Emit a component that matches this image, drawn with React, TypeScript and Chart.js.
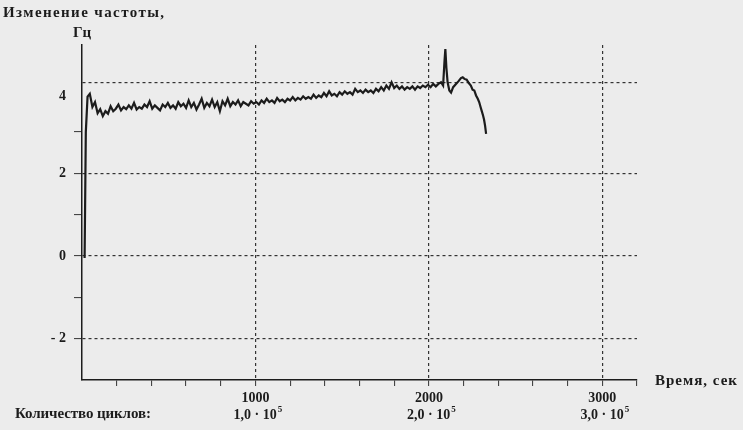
import React, { useEffect, useRef } from 'react';
import { Chart, registerables } from 'chart.js';

Chart.register(...registerables);

// Time, seconds
const timeSec = [
  15, 22, 32, 45, 60, 75, 90, 105, 120, 135, 150, 165, 180, 195, 210, 225, 240, 255, 270, 285,
  300, 315, 330, 345, 360, 375, 390, 405, 420, 435, 450, 465, 480, 495, 510, 525, 540, 555, 570, 585,
  600, 615, 630, 645, 660, 675, 690, 705, 720, 735, 750, 765, 780, 795, 810, 825, 840, 855, 870, 885,
  900, 915, 930, 945, 960, 975, 990, 1005, 1020, 1035, 1050, 1065, 1080, 1095, 1110, 1125, 1140, 1155, 1170, 1185,
  1200, 1215, 1230, 1245, 1260, 1275, 1290, 1305, 1320, 1335, 1350, 1365, 1380, 1395, 1410, 1425, 1440, 1455, 1470, 1485,
  1500, 1515, 1530, 1545, 1560, 1575, 1590, 1605, 1620, 1635, 1650, 1665, 1680, 1695, 1710, 1725, 1740, 1755, 1770, 1785,
  1800, 1815, 1830, 1845, 1860, 1875, 1890, 1905, 1920, 1935, 1950, 1965, 1980, 1995, 2010, 2025, 2040, 2055, 2070, 2082,
  2090, 2095, 2101, 2108, 2118, 2128, 2140, 2155, 2170, 2185, 2195, 2205, 2218, 2230, 2242, 2252, 2262, 2272, 2282, 2290,
  2298, 2305, 2312, 2318, 2324, 2330,
];

// Frequency change, Hz
const freqShiftHz = [
  -0.05, 3.0, 3.85, 3.92, 3.6, 3.72, 3.45, 3.55, 3.38, 3.5, 3.44, 3.62, 3.5, 3.56, 3.66, 3.52, 3.6, 3.55, 3.64, 3.56,
  3.7, 3.54, 3.6, 3.56, 3.66, 3.6, 3.74, 3.56, 3.64, 3.58, 3.52, 3.66, 3.6, 3.7, 3.58, 3.64, 3.56, 3.72, 3.62, 3.68,
  3.58, 3.76, 3.6, 3.7, 3.54, 3.66, 3.8, 3.58, 3.7, 3.62, 3.78, 3.6, 3.72, 3.5, 3.74, 3.64, 3.8, 3.62, 3.72, 3.66,
  3.76, 3.62, 3.72, 3.68, 3.64, 3.74, 3.68, 3.72, 3.66, 3.76, 3.7, 3.8, 3.72, 3.76, 3.7, 3.82, 3.74, 3.78, 3.72, 3.8,
  3.76, 3.84, 3.76, 3.82, 3.78, 3.86, 3.8, 3.84, 3.8, 3.9, 3.82, 3.88, 3.84, 3.94, 3.86, 3.98, 3.88, 3.92, 3.86, 3.96,
  3.9, 3.98, 3.92, 3.96, 3.9, 4.04, 3.96, 4.0, 3.94, 4.02, 3.96, 4.0, 3.94, 4.04, 3.98, 4.08, 4.0, 4.12, 4.04, 4.2,
  4.06, 4.12, 4.04, 4.1, 4.02, 4.08, 4.04, 4.1, 4.02, 4.1, 4.06, 4.12, 4.08, 4.14, 4.08, 4.16, 4.1, 4.16, 4.2, 4.12,
  4.7, 5.0, 4.55, 4.2, 4.0, 3.95, 4.08, 4.15, 4.22, 4.3, 4.32, 4.28, 4.26, 4.18, 4.12, 4.02, 4.0, 3.88, 3.8, 3.72,
  3.6, 3.5, 3.4, 3.3, 3.15, 2.95,
];

const xMajorTicks = [1000, 2000, 3000];
const xMinorTicks = [200, 400, 600, 800, 1000, 1200, 1400, 1600, 1800, 2000, 2200, 2400, 2600, 2800, 3000, 3200];
const yGridValues = [-2, 0, 2, 4.2];
const yLabelValues = [-2, 0, 2, 3.85];
const yTickLabels = ['- 2', '0', '2', '4'];
const yMinorTicks = [-2, -1, 0, 1, 2, 3, 3.85, 4.2];
const cycleMantissas = ['1,0', '2,0', '3,0'];
const cycleExponent = '5';

const INK = '#1c1c1c';
const FONT = '"Liberation Serif", "Times New Roman", serif';

const cyclesPlugin = {
  id: 'cycles',
  afterDraw(chart: any) {
    const ctx = chart.ctx;
    const xs = chart.scales.x;
    ctx.save();
    ctx.fillStyle = INK;
    ctx.textBaseline = 'alphabetic';
    xMajorTicks.forEach((v, i) => {
      const cx = xs.getPixelForValue(v) + 2;
      const main = cycleMantissas[i] + ' \u00b7 10';
      ctx.font = 'bold 14px ' + FONT;
      const w1 = ctx.measureText(main).width;
      ctx.font = 'bold 9px ' + FONT;
      const w2 = ctx.measureText(cycleExponent).width;
      const left = cx - (w1 + w2) / 2;
      ctx.font = 'bold 14px ' + FONT;
      ctx.textAlign = 'left';
      ctx.fillText(main, left, 419);
      ctx.font = 'bold 9px ' + FONT;
      ctx.fillText(cycleExponent, left + w1 + 1, 412);
    });
    ctx.restore();
  },
};

export default function App() {
  const ref = useRef<HTMLCanvasElement>(null);

  useEffect(() => {
    if (!ref.current) return;
    const chart = new Chart(ref.current, {
      type: 'line',
      data: {
        datasets: [
          {
            data: timeSec.map((t, i) => ({ x: t, y: freqShiftHz[i] })),
            borderColor: INK,
            borderWidth: 2.2,
            pointRadius: 0,
            tension: 0,
            fill: false,
          },
        ],
      },
      options: {
        animation: false,
        responsive: false,
        maintainAspectRatio: false,
        layout: { padding: { top: 45, right: 106, left: 0, bottom: 0 } },
        plugins: { legend: { display: false }, tooltip: { enabled: false }, title: { display: false } },
        scales: {
          x: {
            type: 'linear',
            min: 0,
            max: 3200,
            afterBuildTicks: (s: any) => {
              s.ticks = xMinorTicks.map((value) => ({ value }));
            },
            afterFit: (s: any) => {
              s.height = 50;
            },
            ticks: {
              autoSkip: false,
              maxRotation: 0,
              color: INK,
              font: { family: FONT, size: 14, weight: 'bold' },
              padding: 4,
              callback: (v: any) => (xMajorTicks.includes(Number(v)) ? String(v) : ''),
            },
            grid: {
              drawOnChartArea: true,
              color: (c: any) => (xMajorTicks.includes(c.tick?.value) ? '#333' : 'rgba(0,0,0,0)'),
              lineWidth: 1.2,
              tickColor: '#333',
              tickLength: 6,
              tickWidth: 1,
            },
            border: { display: true, color: INK, width: 1.5, dash: [3, 3] },
          },
          y: {
            type: 'linear',
            min: -3,
            max: 5.1,
            afterBuildTicks: (s: any) => {
              s.ticks = yMinorTicks.map((value) => ({ value }));
            },
            afterFit: (s: any) => {
              s.width = 82;
            },
            ticks: {
              autoSkip: false,
              color: INK,
              font: { family: FONT, size: 14, weight: 'bold' },
              padding: 8,
              callback: (v: any) => {
                const idx = yLabelValues.indexOf(Number(v));
                return idx >= 0 ? yTickLabels[idx] : '';
              },
            },
            grid: {
              drawOnChartArea: true,
              color: (c: any) => (yGridValues.includes(c.tick?.value) ? '#333' : 'rgba(0,0,0,0)'),
              tickColor: (c: any) =>
                c.tick?.value === 4.2 || c.tick?.value === 3.85 ? 'rgba(0,0,0,0)' : '#333',
              lineWidth: 1.2,
              tickLength: 8,
              tickWidth: 1,
            },
            border: { display: true, color: INK, width: 1.5, dash: [3, 3] },
          },
        },
      },
      plugins: [cyclesPlugin],
    } as any);
    return () => chart.destroy();
  }, []);

  const textStyle: React.CSSProperties = {
    position: 'absolute',
    fontFamily: FONT,
    fontWeight: 'bold',
    fontSize: '15px',
    lineHeight: '15px',
    color: INK,
    whiteSpace: 'nowrap',
  };

  return (
    <div
      style={{
        position: 'fixed',
        left: 0,
        top: 0,
        width: 743,
        height: 430,
        background: '#ececec',
        overflow: 'hidden',
      }}
    >
      <canvas ref={ref} width={743} height={430} style={{ position: 'absolute', left: 0, top: 0 }} />
      <div style={{ ...textStyle, left: 3, top: 5, letterSpacing: '1.4px' }}>Изменение частоты,</div>
      <div style={{ ...textStyle, left: 73, top: 25 }}>Гц</div>
      <div style={{ ...textStyle, left: 655, top: 373, letterSpacing: '1px' }}>Время, сек</div>
      <div style={{ ...textStyle, left: 15, top: 406, letterSpacing: '-0.1px' }}>Количество циклов:</div>
    </div>
  );
}
